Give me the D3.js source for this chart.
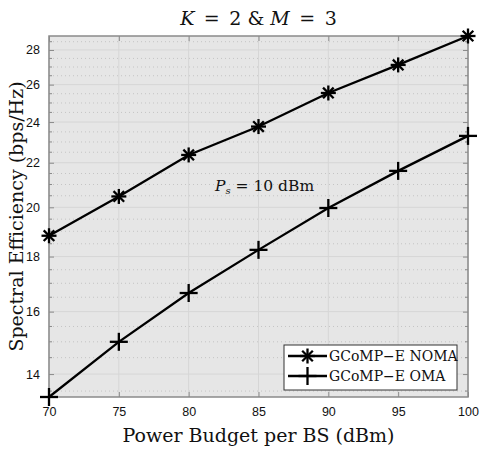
<!DOCTYPE html>
<html>
<head>
<meta charset="utf-8">
<script src="https://cdn.jsdelivr.net/npm/d3@7"></script>
<style>
  body { margin: 0; background: #fff; }
  svg text { fill: #111; }
</style>
</head>
<body>
<svg width="483" height="455"></svg>
<script>
// data
var power = [70, 75, 80, 85, 90, 95, 100];
var noma = [18.82, 20.47, 22.37, 23.77, 25.54, 27.12, 28.85];
var oma = [13.33, 15.00, 16.65, 18.26, 19.97, 21.62, 23.30];
var xTicks = [70, 75, 80, 85, 90, 95, 100];
var yTicks = [14, 16, 18, 20, 22, 24, 26, 28];
var yMinor = d3.range(13.5, 29, 0.5).filter(function (v) { return v % 2 !== 0; });
var seriesNames = ["GCoMP\u2212E NOMA", "GCoMP\u2212E OMA"];

var svg = d3.select("svg"),
    margin = {top: 36, left: 49, right: 15, bottom: 58},
    width = 483 - margin.left - margin.right,
    height = 455 - margin.top - margin.bottom;

var x = d3.scaleLinear().domain([70, 100]).range([0, width]);
var y = d3.scaleLog().domain([13.33, 28.85]).range([height, 0]);

var g = svg.append("g").attr("transform", "translate(" + margin.left + "," + margin.top + ")");

g.append("rect").attr("width", width).attr("height", height).attr("fill", "#e6e6e6");

// minor grid (dotted)
g.selectAll(".minor").data(yMinor).enter().append("line")
    .attr("x1", 0).attr("x2", width)
    .attr("y1", function (d) { return y(d); }).attr("y2", function (d) { return y(d); })
    .attr("stroke", "#c4c4c4").attr("stroke-width", 1).attr("stroke-dasharray", "1,3");

// major grid
g.selectAll(".hgrid").data(yTicks).enter().append("line")
    .attr("x1", 0).attr("x2", width)
    .attr("y1", function (d) { return y(d); }).attr("y2", function (d) { return y(d); })
    .attr("stroke", "#d6d6d6").attr("stroke-width", 1);
g.selectAll(".vgrid").data(xTicks).enter().append("line")
    .attr("y1", 0).attr("y2", height)
    .attr("x1", function (d) { return x(d); }).attr("x2", function (d) { return x(d); })
    .attr("stroke", "#d6d6d6").attr("stroke-width", 1);

// axes
var axisColor = "#8a8a8a";
function styleAxis(sel) {
  sel.select(".domain").remove();
  sel.selectAll(".tick line").attr("stroke", axisColor);
  sel.selectAll(".tick text").attr("font-family", "Liberation Sans, Arial, sans-serif")
     .attr("font-size", 12.5).attr("fill", "#111");
}
g.append("g").attr("transform", "translate(0," + height + ")")
    .call(d3.axisBottom(x).tickValues(xTicks).tickSizeInner(-5).tickSizeOuter(0).tickPadding(10))
    .call(styleAxis);
g.append("g")
    .call(d3.axisTop(x).tickValues(xTicks).tickSizeInner(-5).tickSizeOuter(0).tickFormat(""))
    .call(styleAxis);
g.append("g")
    .call(d3.axisLeft(y).tickValues(yTicks).tickFormat(d3.format("d")).tickSizeInner(-5).tickSizeOuter(0).tickPadding(9))
    .call(styleAxis);
g.append("g").attr("transform", "translate(" + width + ",0)")
    .call(d3.axisRight(y).tickValues(yTicks).tickSizeInner(-5).tickSizeOuter(0).tickFormat(""))
    .call(styleAxis);
// minor ticks
[[0, 3], [width, -3]].forEach(function (p) {
  g.selectAll(null).data(yMinor).enter().append("line")
      .attr("x1", p[0]).attr("x2", p[0] + p[1])
      .attr("y1", function (d) { return y(d); }).attr("y2", function (d) { return y(d); })
      .attr("stroke", axisColor);
});

g.append("rect").attr("width", width).attr("height", height)
    .attr("fill", "none").attr("stroke", axisColor).attr("stroke-width", 1.5);

// lines
var line = d3.line().x(function (d) { return x(d[0]); }).y(function (d) { return y(d[1]); });
var nomaPts = d3.zip(power, noma), omaPts = d3.zip(power, oma);

function drawStar(sel, r) {
  [0, 45, 90, 135].forEach(function (a) {
    sel.append("line").attr("x1", -r).attr("x2", r).attr("y1", 0).attr("y2", 0)
        .attr("transform", "rotate(" + a + ")")
        .attr("stroke", "#000").attr("stroke-width", 2.3);
  });
}
function drawPlus(sel, r) {
  [0, 90].forEach(function (a) {
    sel.append("line").attr("x1", -r).attr("x2", r).attr("y1", 0).attr("y2", 0)
        .attr("transform", "rotate(" + a + ")")
        .attr("stroke", "#000").attr("stroke-width", 2.3);
  });
}

g.append("path").datum(nomaPts).attr("d", line)
    .attr("fill", "none").attr("stroke", "#000").attr("stroke-width", 2.3);
g.append("path").datum(omaPts).attr("d", line)
    .attr("fill", "none").attr("stroke", "#000").attr("stroke-width", 2.3);

g.selectAll(".star").data(nomaPts).enter().append("g")
    .attr("transform", function (d) { return "translate(" + x(d[0]) + "," + y(d[1]) + ")"; })
    .each(function () { drawStar(d3.select(this), 7.5); });
g.selectAll(".plus").data(omaPts).enter().append("g")
    .attr("transform", function (d) { return "translate(" + x(d[0]) + "," + y(d[1]) + ")"; })
    .each(function () { drawPlus(d3.select(this), 9); });

// annotation
var ann = g.append("text").attr("x", 166).attr("y", 155)
    .attr("font-family", "DejaVu Serif, serif").attr("font-size", 15.5);
ann.append("tspan").attr("font-style", "italic").text("P");
ann.append("tspan").attr("font-style", "italic").attr("font-size", 10).attr("dy", 3).text("s");
ann.append("tspan").attr("dy", -3).text(" = 10 dBm");

// legend
var leg = g.append("g").attr("transform", "translate(235,309)");
leg.append("rect").attr("width", 173).attr("height", 45)
    .attr("fill", "#fff").attr("stroke", "#333").attr("stroke-width", 1);
seriesNames.forEach(function (name, i) {
  var row = leg.append("g").attr("transform", "translate(0," + (11 + i * 20) + ")");
  row.append("line").attr("x1", 4).attr("x2", 43).attr("stroke", "#000").attr("stroke-width", 2.3);
  var m = row.append("g").attr("transform", "translate(23.5,0)");
  if (i === 0) drawStar(m, 7.5); else drawPlus(m, 9);
  row.append("text").attr("x", 45).attr("y", 5)
      .attr("font-family", "DejaVu Serif, serif").attr("font-size", 14).text(name);
});

// titles
var title = svg.append("text").attr("x", margin.left + width / 2).attr("y", 25)
    .attr("text-anchor", "middle").attr("font-family", "DejaVu Serif, serif").attr("font-size", 19)
    .attr("xml:space", "preserve");
title.append("tspan").attr("font-style", "italic").text("K");
title.append("tspan").text("\u2002=\u20022 & ");
title.append("tspan").attr("font-style", "italic").text("M");
title.append("tspan").text("\u2002=\u20023");
svg.append("text").attr("x", margin.left + width / 2).attr("y", 442)
    .attr("text-anchor", "middle").attr("font-family", "DejaVu Serif, serif").attr("font-size", 19)
    .text("Power Budget per BS (dBm)");
svg.append("text").attr("transform", "translate(23," + (margin.top + height / 2) + ") rotate(-90)")
    .attr("text-anchor", "middle").attr("font-family", "DejaVu Serif, serif").attr("font-size", 19)
    .text("Spectral Efficiency (bps/Hz)");
</script>
</body>
</html>
